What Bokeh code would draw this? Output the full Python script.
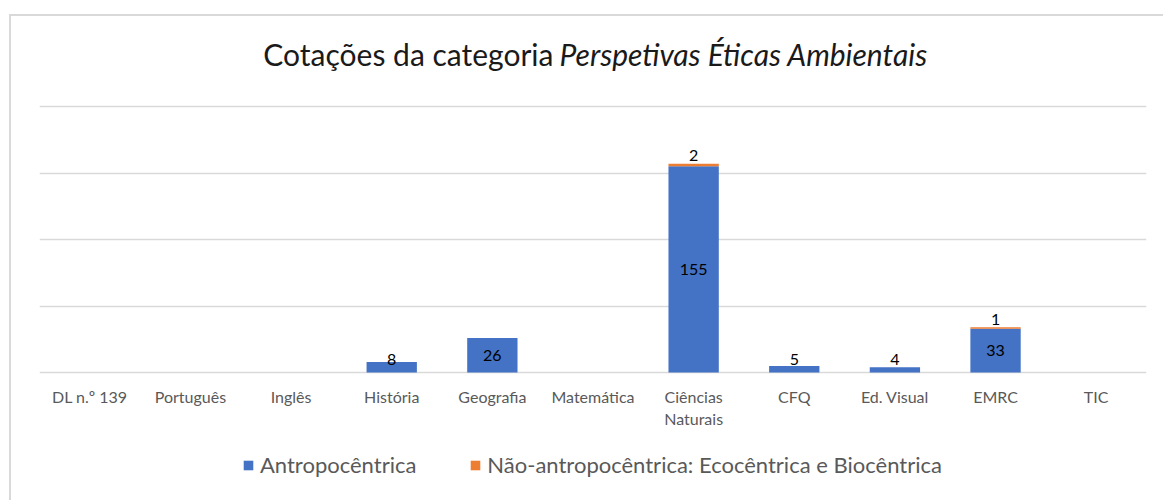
from bokeh.plotting import figure
from bokeh.models import (ColumnDataSource, FactorRange, Range1d, Label, Legend,
                          LegendItem, FixedTicker)
from bokeh.core.properties import value
from bokeh.embed import file_html
from bokeh.resources import INLINE

# ---- data ----
categories = ["DL n.º 139", "Português", "Inglês", "História", "Geografia",
              "Matemática", "Ciências\nNaturais", "CFQ", "Ed. Visual", "EMRC", "TIC"]
antropocentrica = [0, 0, 0, 8, 26, 0, 155, 5, 4, 33, 0]
nao_antropocentrica = [0, 0, 0, 0, 0, 0, 2, 0, 0, 1, 0]
series_names = ["Antropocêntrica", "Não-antropocêntrica: Ecocêntrica e Biocêntrica"]
series_colors = ["#4472C4", "#ED7D31"]
y_ticks = [0, 50, 100, 150, 200]
title_plain = "Cotações da categoria"
title_italic = "Perspetivas Éticas Ambientais"

FONT = "Lato"

# frame spans the full height so title, axis labels and legend live inside it
p = figure(x_range=FactorRange(*categories, range_padding=0),
           y_range=Range1d(-96.2, 279.7),
           width=1163, height=500, output_backend="svg", toolbar_location=None,
           min_border_left=39, min_border_right=17, min_border_top=0,
           min_border_bottom=0)
p.outline_line_color = None
p.border_fill_color = None
p.background_fill_color = None
p.styles = {
    "background-image": "linear-gradient(#d9d9d9, #d9d9d9), linear-gradient(#d9d9d9, #d9d9d9)",
    "background-size": "2px 100%, 100% 2px",
    "background-position": "9px 14px, 9px 14px",
    "background-repeat": "no-repeat",
}

src = ColumnDataSource(dict(cat=categories, a=antropocentrica, n=nao_antropocentrica))
rs = p.vbar_stack(["a", "n"], x="cat", width=0.5, color=series_colors,
                  line_color=None, source=src)

# data labels - blue series (centered in bar)
bl_x = [c for c, v in zip(categories, antropocentrica) if v > 0]
bl_v = [v for v in antropocentrica if v > 0]
bl_y = [max(v / 2, 10) for v in bl_v]
p.text(x=bl_x, y=bl_y, text=[str(v) for v in bl_v], text_align="center",
       text_baseline="middle", text_font=value(FONT), text_font_size="16px",
       text_color="#000000")

# data labels - orange series (above stack)
ol_x = [c for c, v in zip(categories, nao_antropocentrica) if v > 0]
ol_v = [v for v in nao_antropocentrica if v > 0]
ol_y = [a + n for a, n in zip(antropocentrica, nao_antropocentrica) if n > 0]
p.text(x=ol_x, y=ol_y, text=[str(v) for v in ol_v], text_align="center",
       text_baseline="middle", y_offset=-8, text_font=value(FONT), text_font_size="16px",
       text_color="#000000")

# axes / grid
p.yaxis.visible = False
p.xgrid.visible = False
p.ygrid.ticker = FixedTicker(ticks=y_ticks)
p.ygrid.grid_line_color = "#d9d9d9"
p.ygrid.grid_line_width = 1.3
xa = p.xaxis[0]
xa.fixed_location = 0
xa.axis_line_color = None
xa.major_tick_line_color = None
xa.minor_tick_line_color = None
xa.major_label_text_font = FONT
xa.major_label_text_font_size = "16px"
xa.major_label_text_color = "#595959"
xa.major_label_standoff = 8

# title (plain + italic part)
p.add_layout(Label(x=5.107, y=239.8, text=title_plain, text_align="right",
                   text_baseline="alphabetic", text_font=FONT, text_font_size="30px",
                   text_color="#1a1a1a"))
p.add_layout(Label(x=5.167, y=239.8, text=title_italic, text_align="left",
                   text_baseline="alphabetic", text_font=FONT, text_font_size="30px",
                   text_font_style="italic", text_color="#1a1a1a"))

# legend
legend = Legend(items=[LegendItem(label=series_names[i], renderers=[rs[i]]) for i in range(2)],
                orientation="horizontal", location=(203, 22),
                glyph_width=12, glyph_height=12, label_standoff=6, spacing=53,
                label_text_font=FONT, label_text_font_size="22px",
                label_text_color="#595959", border_line_color=None,
                background_fill_alpha=0, padding=0, margin=0)
p.add_layout(legend, "center")

open("out.html", "w").write(file_html(p, INLINE))
